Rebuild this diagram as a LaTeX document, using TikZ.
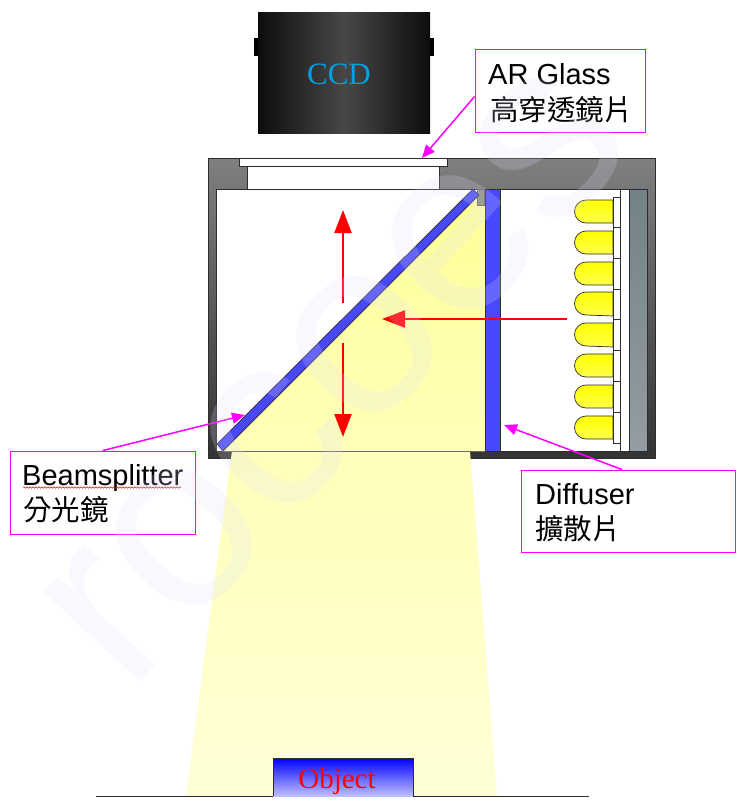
\documentclass[tikz,border=0pt]{standalone}
\usepackage{fontspec}
\setmainfont{Liberation Sans}
\newfontfamily\cjkfont{Noto Sans CJK TC}
\newfontfamily\serifont{Liberation Serif}
\usepackage{tikz}
\usetikzlibrary{
  arrows.meta,
  decorations.pathmorphing
}
\definecolor{beamblue}{RGB}{72,72,255}
\definecolor{callout}{RGB}{255,0,255}
\definecolor{camtext}{RGB}{0,160,230}
\definecolor{edgegray}{RGB}{45,45,45}
\definecolor{paleyellow}{RGB}{255,255,150}
\definecolor{midyellow}{RGB}{255,255,185}
\definecolor{fadeyellow}{RGB}{255,255,215}
\definecolor{marklav}{RGB}{222,222,252}
\definecolor{platetop}{RGB}{115,130,135}
\definecolor{platebot}{RGB}{147,157,162}
\tikzset{
  labelbox/.style={draw=callout, fill=white, inner sep=0pt, line width=0.8pt},
  labeltext/.style={anchor=base west, inner sep=0pt, font=\fontsize{29}{29}\selectfont},
  labelzh/.style={anchor=base west, inner sep=0pt, font=\cjkfont\fontsize{28.5}{29}\selectfont},
  pointer/.style={draw=callout, line width=1.5pt, -{Triangle[length=13pt,width=11pt]}},
  rayarrow/.style={draw=red, line width=2pt, -{Triangle[length=23pt,width=17pt]}},
  ledbody/.style={draw=edgegray, line width=0.7pt, bottom color=yellow!70!white, top color=yellow},
  pcbcell/.style={draw=edgegray, fill=white, line width=0.7pt}
}
\begin{document}
\begin{tikzpicture}[x=1pt, y=-1pt]
  \useasboundingbox (0,0) rectangle (743,804);
  \fill[white] (0,0) rectangle (743,804);
  % camera
  \shade[left color=black!95, right color=black!95, middle color=black!72] (258,12) rectangle (430,133);
  \fill[black] (254,38) rectangle (258,56);
  \fill[black] (430,38) rectangle (434,56);
  \node[text=camtext, inner sep=0pt, font=\serifont\fontsize{31}{31}\selectfont] (ccd) at (339,74) {CCD};
  % housing
  \shade[top color=black!50, bottom color=black!80, draw=edgegray, line width=0.6pt] (208,158) rectangle (655,458);
  \fill[white, draw=edgegray, line width=0.8pt] (216,189) rectangle (647,451);
  \fill[white, draw=edgegray, line width=0.8pt] (247,166) rectangle (439,189);
  \fill[white, draw=edgegray, line width=0.8pt] (239,158) rectangle (447,166);
  % light cone
  \shade[top color=midyellow, bottom color=fadeyellow] (232,451) -- (470,451) -- (497,796) -- (186,796) -- cycle;
  \shade[top color=paleyellow, bottom color=midyellow] (222,451) -- (479,194) -- (485,189) -- (485,451) -- cycle;
  \draw[edgegray!70, line width=0.8pt] (222,451) -- (485,451);
  % beamsplitter and diffuser
  \fill[black!45, draw=black!60, line width=0.5pt] (477,189) rectangle (484,205);
  \fill[beamblue, draw=edgegray, line width=0.7pt] (217,444) -- (473,189) -- (479,195) -- (223,451) -- cycle;
  \fill[beamblue, draw=edgegray, line width=0.7pt] (485,189) rectangle (500,451);
  % back plate
  \draw[edgegray, line width=0.7pt] (620,189) -- (620,451);
  \shade[top color=platetop, bottom color=platebot, draw=edgegray, line width=0.7pt] (629,189) rectangle (647,451);
  % leds
  \foreach \ytop/\ybot in {200/223,231/254,262/285,292/316,323/347,354/377,385/408,416/439}{
    \draw[ledbody] (613,\ytop) -- (586,\ytop) arc[start angle=90, end angle=270, x radius=11.5, y radius=-11.5] -- (613,\ybot) -- cycle;
  }
  \foreach \ytop/\ybot in {197/227,227/258,258/289,289/319,319/350,350/381,381/412,412/443}{
    \draw[pcbcell] (613,\ytop) rectangle (620,\ybot);
  }
  % rays
  \coordinate (rayup) at (343,303);
  \coordinate (rayuptip) at (343,210);
  \coordinate (raydown) at (343,343);
  \coordinate (raydowntip) at (343,437);
  \coordinate (rayled) at (567,319);
  \coordinate (rayledtip) at (382,319);
  \draw[rayarrow] (rayup) -- (rayuptip);
  \draw[rayarrow] (raydown) -- (raydowntip);
  \draw[rayarrow] (rayled) -- (rayledtip);
  % object
  \shade[top color=blue, bottom color=blue!25!white] (273,758) rectangle (413,796);
  \draw[edgegray, line width=0.8pt] (273,796) -- (273,758) -- (413,758) -- (413,796);
  \node[text=red, anchor=base, inner sep=0pt, font=\serifont\fontsize{29}{29}\selectfont] (object) at (337,788) {Object};
  \draw[edgegray, line width=0.7pt] (96,796) -- (273,796) (413,796) -- (589,796);
  % labels
  \node[labelbox, minimum width=170pt, minimum height=83pt] (arglass) at (560,90.5) {};
  \node[labeltext] (arglassen) at (488,84) {AR Glass};
  \node[labelzh] (arglasszh) at (490,120) {高穿透鏡片};
  \node[labelbox, minimum width=185pt, minimum height=83pt] (splitter) at (102.5,492.5) {};
  \node[labeltext] (splitteren) at (22,485) {Beamsplitter};
  \node[labelzh] (splitterzh) at (23,520) {分光鏡};
  \draw[red, line width=0.5pt, decorate, decoration={snake, amplitude=0.8pt, segment length=3pt}] (23,487.5) -- (181,487.5);
  \node[labelbox, minimum width=214pt, minimum height=82pt] (diffuser) at (628,511) {};
  \node[labeltext] (diffuseren) at (535,504) {Diffuser};
  \node[labelzh] (diffuserzh) at (535,539) {擴散片};
  % pointers
  \coordinate (glasshit) at (422,158);
  \coordinate (splitterhit) at (245,415);
  \coordinate (diffuserhit) at (504,425);
  \draw[pointer] (arglass.184) -- (glasshit);
  \draw[pointer] (splitter.north) -- (splitterhit);
  \draw[pointer] (diffuser.98) -- (diffuserhit);
  % watermark
  \node[text=marklav, opacity=0.2, rotate=47, inner sep=0pt, font=\fontsize{250}{250}\selectfont] (mark) at (336,375) {rocoes};
\end{tikzpicture}
\end{document}
